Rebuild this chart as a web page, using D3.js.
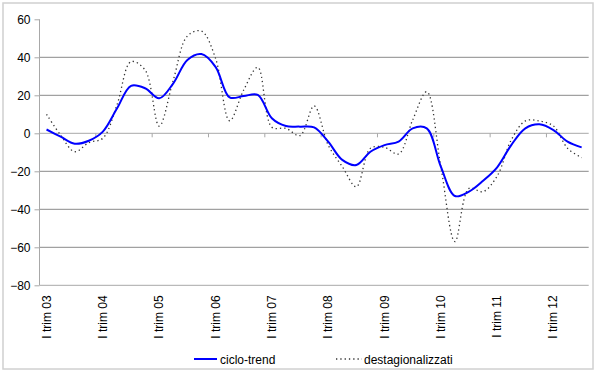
<!DOCTYPE html>
<html><head><meta charset="utf-8">
<script src="https://cdn.jsdelivr.net/npm/d3@7"></script>
<style>body{margin:0;background:#fff}svg{display:block}text{font-family:Arial,"Liberation Sans",sans-serif;fill:#000}</style>
</head><body><svg id="c" width="600" height="373"></svg>
<script>
const years = ["03","04","05","06","07","08","09","10","11","12"];
const quarters = [];
years.forEach(y => { for (let q = 1; q <= 4; q++) quarters.push(y + "Q" + q); });
const categories = quarters.slice(0, 39);
const tickLabels = years.map(y => "I trim " + y);
const cicloTrend = [2, -1.8, -5.5, -3.9, 0.9, 13, 25, 23.7, 18.4, 26.3, 38.6, 41.7,
  35, 18.9, 19.6, 20.2, 7.9, 3.8, 3.5, 3.1, -4.4, -14, -16.7, -9.7, -6.2, -4.4, 2.6, 2.6,
  -17.5, -33, -30.7, -25, -17.9, -6.2, 2.6, 4.7, 1.7, -4.4, -7.4];
const destag = [10, -1, -9.7, -4.9, -2.6, 14.9, 37.7, 33.3, 3.8, 28, 51.2, 53.8,
  39.5, 6.6, 22.8, 34.7, 3.2, 2.6, -1.2, 14.4, -6.2, -17.5, -28.1, -7.9, -7.4, -10.9, 7, 21.9,
  -17.5, -57, -29, -30.7, -22.5, -3.5, 6.5, 6.5, 3.8, -7.9, -12.8];
const yTicks = [60, 40, 20, 0, -20, -40, -60, -80];
const gridVals = [40, 20, -20, -40, -60];

const svg = d3.select("#c");
const L = 39.5, R = 588.7, T = 19.3, B = 285.3;
svg.append("rect").attr("x", 3).attr("y", 3).attr("width", 590).attr("height", 366)
  .attr("fill", "#fff").attr("stroke", "#d0d0d0").attr("stroke-width", 1.5);

const x = d3.scaleBand().domain(categories).range([L, R]).padding(0);
const y = d3.scaleLinear().domain([-80, 60]).range([B, T]);
const cx = d => x(d) + x.bandwidth() / 2;

// gridlines
svg.append("g").selectAll("line").data(gridVals).join("line")
  .attr("x1", L).attr("x2", R).attr("y1", d => y(d)).attr("y2", d => y(d))
  .attr("stroke", "#8a8a8a").attr("stroke-width", 1);
svg.append("line").attr("x1", L).attr("x2", R).attr("y1", y(-80)).attr("y2", y(-80))
  .attr("stroke", "#a8a8a8").attr("stroke-width", 1);

// y axis
const yAxis = d3.axisLeft(y).tickValues(yTicks).tickSize(5).tickPadding(4).tickFormat(d3.format("d"));
const ya = svg.append("g").attr("transform", `translate(${L},0)`).call(yAxis);
ya.select(".domain").attr("stroke", "#a8a8a8").attr("d", `M0,${T}V${B}`);
ya.selectAll(".tick line").attr("stroke", "#a8a8a8");
ya.selectAll("text").attr("font-size", 12).attr("fill", "#000").attr("font-family", "Arial, 'Liberation Sans', sans-serif");

// category axis at zero
const boundaries = categories.filter((d, i) => i % 4 === 0 && i > 0);
svg.append("line").attr("x1", L).attr("x2", R).attr("y1", y(0)).attr("y2", y(0))
  .attr("stroke", "#a8a8a8").attr("stroke-width", 1);
svg.append("g").selectAll("line").data(boundaries).join("line")
  .attr("x1", d => x(d)).attr("x2", d => x(d)).attr("y1", y(0)).attr("y2", y(0) + 4)
  .attr("stroke", "#a8a8a8");

// category labels at bottom
const labelCats = categories.filter((d, i) => i % 4 === 0);
svg.append("g").selectAll("text").data(labelCats).join("text")
  .attr("transform", (d) => `translate(${cx(d) + 4},${B + 10}) rotate(-90)`)
  .attr("text-anchor", "end").attr("font-size", 12)
  .text((d, i) => tickLabels[i]);

// lines
const line = d3.line().x((d, i) => cx(categories[i])).y(d => y(d)).curve(d3.curveCatmullRom.alpha(0.5));
svg.append("path").datum(destag).attr("d", line).attr("fill", "none")
  .attr("stroke", "#333").attr("stroke-width", 1.3).attr("stroke-dasharray", "1.3,3");
svg.append("path").datum(cicloTrend).attr("d", line).attr("fill", "none")
  .attr("stroke", "#0000ff").attr("stroke-width", 2);

// legend
const lg = svg.append("g");
lg.append("line").attr("x1", 194).attr("x2", 217).attr("y1", 359).attr("y2", 359).attr("stroke", "#0000ff").attr("stroke-width", 2);
lg.append("text").attr("x", 220).attr("y", 363.5).attr("font-size", 12).text("ciclo-trend");
lg.append("line").attr("x1", 336).attr("x2", 362).attr("y1", 359).attr("y2", 359).attr("stroke", "#333").attr("stroke-width", 1.3).attr("stroke-dasharray", "1.3,3");
lg.append("text").attr("x", 364).attr("y", 363.5).attr("font-size", 12).text("destagionalizzati");
</script></body></html>
